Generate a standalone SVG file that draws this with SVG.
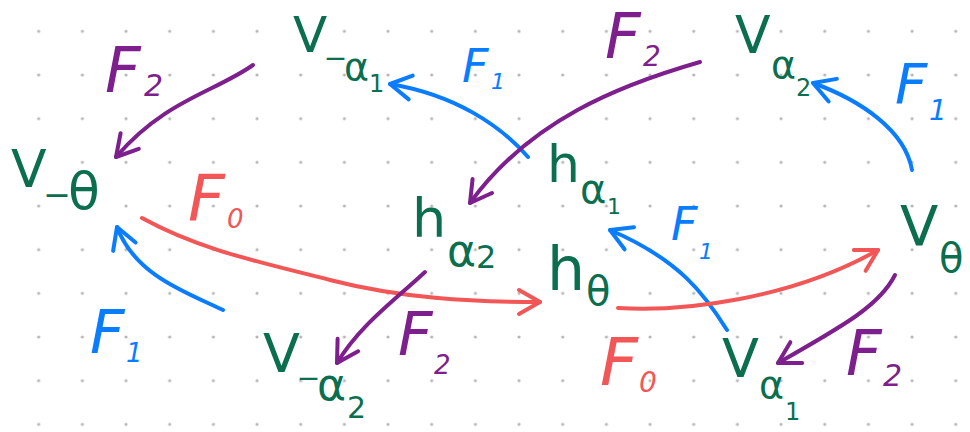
<svg xmlns="http://www.w3.org/2000/svg" width="970" height="432" viewBox="0 0 970 432">
<defs>
<style>
.lbl{font-family:"DejaVu Sans","Liberation Sans",sans-serif}
.g{fill:#0a6e4f}
.p{fill:#7d1f8c}
.b{fill:#0a7dff}
.r{fill:#f25656}
.f{font-style:italic}
.c{fill:none;stroke-width:4;stroke-linecap:round;stroke-linejoin:round}
.cp{stroke:#7d1f8c}
.cb{stroke:#0a7dff}
.cr{stroke:#f25656}
</style>
<pattern id="dots" x="16.87" y="9.47" width="43.67" height="43.67" patternUnits="userSpaceOnUse">
<circle cx="21.83" cy="21.83" r="1.6" fill="#b5b5b5"/>
</pattern>
<marker id="ap" markerUnits="userSpaceOnUse" orient="auto" overflow="visible" refX="0" refY="0" markerWidth="1" markerHeight="1">
<path d="M-21,-12 L0,0 L-21,12" fill="none" stroke="#7d1f8c" stroke-width="4" stroke-linecap="round" stroke-linejoin="round"/>
</marker>
<marker id="ab" markerUnits="userSpaceOnUse" orient="auto" overflow="visible" refX="0" refY="0" markerWidth="1" markerHeight="1">
<path d="M-21,-12 L0,0 L-21,12" fill="none" stroke="#0a7dff" stroke-width="4" stroke-linecap="round" stroke-linejoin="round"/>
</marker>
<marker id="ar" markerUnits="userSpaceOnUse" orient="auto" overflow="visible" refX="0" refY="0" markerWidth="1" markerHeight="1">
<path d="M-21,-12 L0,0 L-21,12" fill="none" stroke="#f25656" stroke-width="4" stroke-linecap="round" stroke-linejoin="round"/>
</marker>
</defs>
<rect width="970" height="432" fill="#ffffff"/>
<rect width="970" height="432" fill="url(#dots)"/>

<g id="connectors">
<path class="c cp" d="M253,65 C215,92 165,100 116,157" marker-end="url(#ap)"/>
<path class="c cb" d="M528,157 C500,125 455,95 390,84" marker-end="url(#ab)"/>
<path class="c cp" d="M700,62 C620,85 530,120 470,203" marker-end="url(#ap)"/>
<path class="c cr" d="M142,218 C200,250 260,262 330,280 S470,302 540,302" marker-end="url(#ar)"/>
<path class="c cb" d="M223,310 C185,292 135,275 117,227" marker-end="url(#ab)"/>
<path class="c cb" d="M912,170 C905,130 860,100 813,83" marker-end="url(#ab)"/>
<path class="c cb" d="M727,330 C705,295 680,260 610,230" marker-end="url(#ab)"/>
<path class="c cr" d="M618,308 C680,312 790,300 878,250" marker-end="url(#ar)"/>
<path class="c cp" d="M895,275 C880,305 845,325 778,363" marker-end="url(#ap)"/>
<path class="c cp" d="M425,272 C395,300 360,325 337,363" marker-end="url(#ap)"/>
</g>

<g id="edge-labels">
<text class="lbl p f"><tspan x="105" y="92" font-size="62">F</tspan><tspan x="144" y="96" font-size="30">2</tspan></text>
<text class="lbl b f"><tspan x="462" y="82" font-size="46">F</tspan><tspan x="491" y="89" font-size="22">1</tspan></text>
<text class="lbl p f"><tspan x="605" y="58" font-size="62">F</tspan><tspan x="643" y="66" font-size="28">2</tspan></text>
<text class="lbl b f"><tspan x="895" y="103" font-size="56">F</tspan><tspan x="929" y="120" font-size="28">1</tspan></text>
<text class="lbl r f"><tspan x="188" y="220" font-size="64">F</tspan><tspan x="227" y="228" font-size="26">0</tspan></text>
<text class="lbl b f"><tspan x="90" y="353" font-size="60">F</tspan><tspan x="126" y="362" font-size="26">1</tspan></text>
<text class="lbl p f"><tspan x="398" y="355" font-size="60">F</tspan><tspan x="434" y="374" font-size="26">2</tspan></text>
<text class="lbl b f"><tspan x="671" y="240" font-size="46">F</tspan><tspan x="699" y="259" font-size="22">1</tspan></text>
<text class="lbl r f"><tspan x="600" y="385" font-size="66">F</tspan><tspan x="639" y="392" font-size="28">0</tspan></text>
<text class="lbl p f"><tspan x="846" y="375" font-size="62">F</tspan><tspan x="883" y="386" font-size="30">2</tspan></text>
</g>

<g id="node-V-minus-theta">
<text class="lbl g"><tspan x="11" y="187" font-size="52">V</tspan><tspan x="47" y="187" font-size="40">_</tspan><tspan x="68" y="209" font-size="52">θ</tspan></text>
</g>
<g id="node-V-minus-alpha1">
<text class="lbl g"><tspan x="293" y="52" font-size="50">V</tspan><tspan x="327" y="52" font-size="34">_</tspan><tspan x="344" y="80" font-size="38">α</tspan><tspan x="369" y="92" font-size="24">1</tspan></text>
</g>
<g id="node-V-alpha2">
<text class="lbl g"><tspan x="735" y="53" font-size="52">V</tspan><tspan x="771" y="78" font-size="38">α</tspan><tspan x="796" y="96" font-size="24">2</tspan></text>
</g>
<g id="node-h-alpha1">
<text class="lbl g"><tspan x="547" y="182" font-size="52">h</tspan><tspan x="580" y="203" font-size="40">α</tspan><tspan x="607" y="214" font-size="22">1</tspan></text>
</g>
<g id="node-h-alpha2">
<text class="lbl g"><tspan x="412" y="237" font-size="54">h</tspan><tspan x="447" y="266" font-size="44">α</tspan><tspan x="476" y="268" font-size="32">2</tspan></text>
</g>
<g id="node-h-theta">
<text class="lbl g"><tspan x="547" y="290" font-size="60">h</tspan><tspan x="586" y="305" font-size="40">θ</tspan></text>
</g>
<g id="node-V-theta">
<text class="lbl g"><tspan x="900" y="245" font-size="56">V</tspan><tspan x="939" y="272" font-size="40">θ</tspan></text>
</g>
<g id="node-V-alpha1">
<text class="lbl g"><tspan x="722" y="377" font-size="54">V</tspan><tspan x="759" y="398" font-size="38">α</tspan><tspan x="785" y="420" font-size="24">1</tspan></text>
</g>
<g id="node-V-minus-alpha2">
<text class="lbl g"><tspan x="263" y="372" font-size="54">V</tspan><tspan x="300" y="372" font-size="34">_</tspan><tspan x="317" y="400" font-size="44">α</tspan><tspan x="347" y="418" font-size="30">2</tspan></text>
</g>
</svg>
